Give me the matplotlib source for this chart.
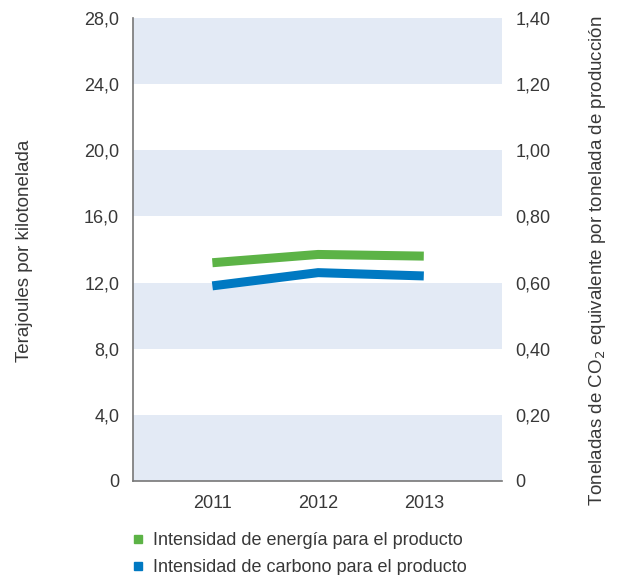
import matplotlib.pyplot as plt
from matplotlib.lines import Line2D

years = [2011, 2012, 2013]
energia = [13.2, 13.7, 13.6]        # Terajoules por kilotonelada
carbono = [0.59, 0.63, 0.62]        # t CO2 eq por tonelada

left_ticks = [0, 4, 8, 12, 16, 20, 24, 28]
left_labels = ['0', '4,0', '8,0', '12,0', '16,0', '20,0', '24,0', '28,0']
right_ticks = [0, 0.2, 0.4, 0.6, 0.8, 1.0, 1.2, 1.4]
right_labels = ['0', '0,20', '0,40', '0,60', '0,80', '1,00', '1,20', '1,40']

GREEN = '#5cb346'
BLUE = '#0079c2'
BAND = '#e3eaf5'
TEXT = '#383838'

plt.rcParams['font.family'] = ['Liberation Sans', 'DejaVu Sans']


def main():
    fig = plt.figure(figsize=(6.19, 5.75), dpi=100)
    ax = fig.add_axes([0.215, 0.1635, 0.596, 0.8052])
    ax2 = ax.twinx()

    ax.set_xlim(2010.25, 2013.74)
    ax.set_ylim(0, 28)
    ax2.set_ylim(0, 1.4)

    # alternating background bands
    for lo in [0, 8, 16, 24]:
        ax.axhspan(lo, lo + 4, color=BAND, lw=0, zorder=0)

    ax.plot(years, energia, color=GREEN, lw=6.5, solid_capstyle='butt', zorder=3)
    ax2.plot(years, carbono, color=BLUE, lw=6.5, solid_capstyle='butt', zorder=3)

    ax.set_yticks(left_ticks)
    ax.set_yticklabels(left_labels)
    ax2.set_yticks(right_ticks)
    ax2.set_yticklabels(right_labels)
    ax.set_xticks(years)
    ax.set_xticklabels([str(y) for y in years])

    ax.tick_params(axis='y', length=0, pad=10, labelsize=13, labelcolor=TEXT)
    ax.tick_params(axis='x', length=0, pad=10, labelsize=13, labelcolor=TEXT)
    ax2.tick_params(axis='y', length=0, pad=9.5, labelsize=13, labelcolor=TEXT)

    for a in (ax, ax2):
        a.spines['top'].set_visible(False)
        a.spines['right'].set_visible(False)
    ax2.spines['left'].set_visible(False)
    ax2.spines['bottom'].set_visible(False)
    ax.spines['left'].set_color('#777777')
    ax.spines['bottom'].set_color('#777777')
    ax.spines['left'].set_linewidth(1.2)
    ax.spines['bottom'].set_linewidth(1.2)

    fig.text(0.039, 0.564, 'Terajoules por kilotonelada', rotation=90,
             ha='center', va='center', fontsize=13.5, color=TEXT)
    fig.text(0.966, 0.547,
             'Toneladas de CO$_2$ equivalente por tonelada de producción',
             rotation=90, ha='center', va='center', fontsize=13.5, color=TEXT)

    handles = [
        Line2D([], [], marker='s', ls='none', color=GREEN, markersize=6.2),
        Line2D([], [], marker='s', ls='none', color=BLUE, markersize=6.2),
    ]
    fig.legend(handles,
               ['Intensidad de energía para el producto',
                'Intensidad de carbono para el producto'],
               loc='upper left', bbox_to_anchor=(0.2134, 0.074),
               frameon=False, fontsize=13, labelcolor=TEXT,
               handletextpad=0.56, labelspacing=0.55, borderpad=0,
               borderaxespad=0, handlelength=0.6)

    fig.savefig('out.png', dpi=100)


if __name__ == '__main__':
    main()
